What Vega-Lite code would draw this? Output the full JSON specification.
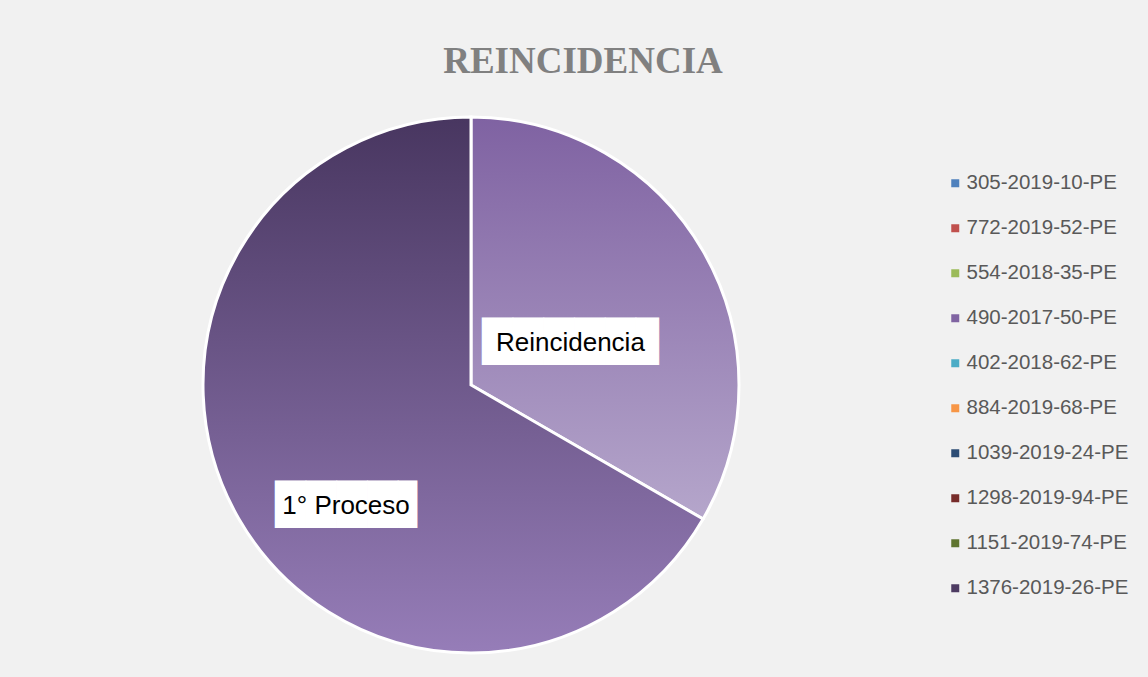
{
  "$schema": "https://vega.github.io/schema/vega-lite/v6.json",
  "width": 536,
  "height": 536,
  "autosize": {"type": "none"},
  "padding": {"left": 203, "top": 117, "right": 409, "bottom": 24},
  "background": "#f1f1f1",
  "config": {"view": {"stroke": null}},
  "title": {
    "text": "REINCIDENCIA",
    "font": "Liberation Serif",
    "fontWeight": "bold",
    "fontSize": 37,
    "color": "#808080",
    "anchor": "middle",
    "frame": "group",
    "baseline": "alphabetic",
    "offset": 1,
    "dx": 112
  },
  "datasets": {
    "pie": [
      {"categoria": "Reincidencia", "valor": 1, "orden": 1},
      {"categoria": "1° Proceso", "valor": 2, "orden": 2}
    ],
    "casos": [
      {"caso": "305-2019-10-PE"},
      {"caso": "772-2019-52-PE"},
      {"caso": "554-2018-35-PE"},
      {"caso": "490-2017-50-PE"},
      {"caso": "402-2018-62-PE"},
      {"caso": "884-2019-68-PE"},
      {"caso": "1039-2019-24-PE"},
      {"caso": "1298-2019-94-PE"},
      {"caso": "1151-2019-74-PE"},
      {"caso": "1376-2019-26-PE"}
    ]
  },
  "layer": [
    {
      "data": {"name": "pie"},
      "mark": {"type": "arc", "stroke": "#ffffff", "strokeWidth": 3},
      "encoding": {
        "theta": {"field": "valor", "type": "quantitative", "stack": true},
        "order": {"field": "orden", "type": "quantitative"},
        "fill": {
          "condition": {
            "test": "datum.categoria === 'Reincidencia'",
            "value": {"gradient": "linear", "x1": 0, "y1": 0, "x2": 0, "y2": 1,
              "stops": [{"offset": 0, "color": "#7f62a2"}, {"offset": 1, "color": "#b5a6cb"}]}
          },
          "value": {"gradient": "linear", "x1": 0, "y1": 0, "x2": 0, "y2": 1,
            "stops": [{"offset": 0, "color": "#483660"}, {"offset": 1, "color": "#967db8"}]}
        }
      }
    },
    {
      "data": {"name": "pie"},
      "mark": {"type": "text", "font": "DejaVu Sans", "fontSize": 40, "radius": 108, "thetaOffset": 0.122, "dx": 4, "color": "#ffffff", "baseline": "middle"},
      "encoding": {
        "theta": {"field": "valor", "type": "quantitative", "stack": true},
        "order": {"field": "orden", "type": "quantitative"},
        "text": {"condition": {"test": "datum.categoria === 'Reincidencia'", "value": "█████▊"}, "value": ""}
      }
    },
    {
      "data": {"name": "pie"},
      "mark": {"type": "text", "font": "DejaVu Sans", "fontSize": 40, "radius": 174, "thetaOffset": -0.246, "dx": 6, "color": "#ffffff", "baseline": "middle"},
      "encoding": {
        "theta": {"field": "valor", "type": "quantitative", "stack": true},
        "order": {"field": "orden", "type": "quantitative"},
        "text": {"condition": {"test": "datum.categoria === '1° Proceso'", "value": "████▋"}, "value": ""}
      }
    },
    {
      "data": {"name": "pie"},
      "mark": {"type": "text", "font": "Liberation Sans", "fontSize": 26, "radius": 108, "thetaOffset": 0.122, "color": "#000000", "baseline": "middle"},
      "encoding": {
        "theta": {"field": "valor", "type": "quantitative", "stack": true},
        "order": {"field": "orden", "type": "quantitative"},
        "text": {"condition": {"test": "datum.categoria === 'Reincidencia'", "field": "categoria"}, "value": ""}
      }
    },
    {
      "data": {"name": "pie"},
      "mark": {"type": "text", "font": "Liberation Sans", "fontSize": 26, "radius": 174, "thetaOffset": -0.246, "color": "#000000", "baseline": "middle"},
      "encoding": {
        "theta": {"field": "valor", "type": "quantitative", "stack": true},
        "order": {"field": "orden", "type": "quantitative"},
        "text": {"condition": {"test": "datum.categoria === '1° Proceso'", "field": "categoria"}, "value": ""}
      }
    },
    {
      "data": {"name": "casos"},
      "mark": {"type": "text", "text": ""},
      "encoding": {
        "color": {
          "field": "caso",
          "type": "nominal",
          "scale": {
            "domain": ["305-2019-10-PE", "772-2019-52-PE", "554-2018-35-PE", "490-2017-50-PE", "402-2018-62-PE", "884-2019-68-PE", "1039-2019-24-PE", "1298-2019-94-PE", "1151-2019-74-PE", "1376-2019-26-PE"],
            "range": ["#4f81bd", "#c0504d", "#9bbb59", "#8064a2", "#4bacc6", "#f79646", "#2c4d75", "#772c2a", "#5f7530", "#4d3b62"]
          },
          "legend": {
            "title": null,
            "orient": "none",
            "legendX": 742,
            "legendY": 56,
            "padding": 0,
            "symbolType": "square",
            "symbolSize": 64,
            "symbolStrokeWidth": 0,
            "symbolOpacity": 1,
            "labelFont": "Liberation Sans",
            "labelFontSize": 20.5,
            "labelColor": "#595959",
            "labelOffset": 1,
            "labelLimit": 300,
            "rowPadding": 24
          }
        }
      }
    }
  ]
}
